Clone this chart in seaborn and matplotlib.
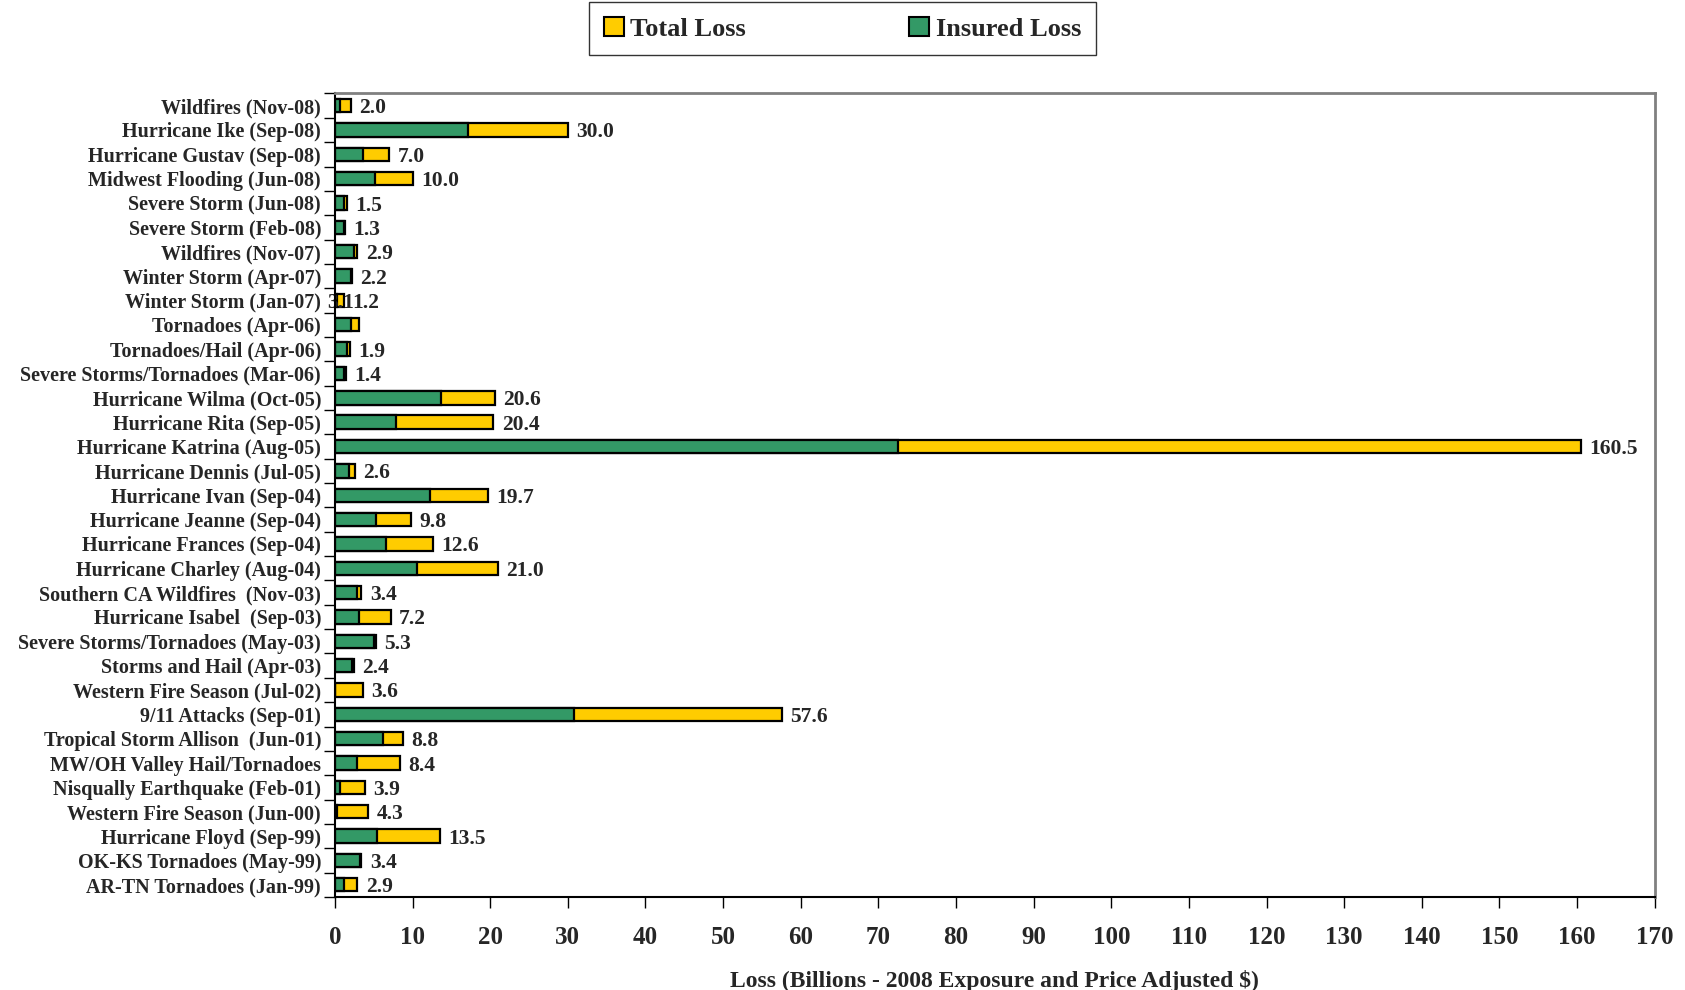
import matplotlib
matplotlib.use("Agg")
import matplotlib.pyplot as plt
import seaborn as sns
import pandas as pd
from matplotlib.patches import Patch
from matplotlib.ticker import FixedLocator

events = [
    "Wildfires (Nov-08)", "Hurricane Ike (Sep-08)", "Hurricane Gustav (Sep-08)",
    "Midwest Flooding (Jun-08)", "Severe Storm (Jun-08)", "Severe Storm (Feb-08)",
    "Wildfires (Nov-07)", "Winter Storm (Apr-07)", "Winter Storm (Jan-07)",
    "Tornadoes (Apr-06)", "Tornadoes/Hail (Apr-06)", "Severe Storms/Tornadoes (Mar-06)",
    "Hurricane Wilma (Oct-05)", "Hurricane Rita (Sep-05)", "Hurricane Katrina (Aug-05)",
    "Hurricane Dennis (Jul-05)", "Hurricane Ivan (Sep-04)", "Hurricane Jeanne (Sep-04)",
    "Hurricane Frances (Sep-04)", "Hurricane Charley (Aug-04)",
    "Southern CA Wildfires  (Nov-03)", "Hurricane Isabel  (Sep-03)",
    "Severe Storms/Tornadoes (May-03)", "Storms and Hail (Apr-03)",
    "Western Fire Season (Jul-02)", "9/11 Attacks (Sep-01)",
    "Tropical Storm Allison  (Jun-01)", "MW/OH Valley Hail/Tornadoes",
    "Nisqually Earthquake (Feb-01)", "Western Fire Season (Jun-00)",
    "Hurricane Floyd (Sep-99)", "OK-KS Tornadoes (May-99)", "AR-TN Tornadoes (Jan-99)",
]
total_loss = [2.0, 30.0, 7.0, 10.0, 1.5, 1.3, 2.9, 2.2, 1.2, 3.1, 1.9, 1.4,
              20.6, 20.4, 160.5, 2.6, 19.7, 9.8, 12.6, 21.0, 3.4, 7.2, 5.3, 2.4,
              3.6, 57.6, 8.8, 8.4, 3.9, 4.3, 13.5, 3.4, 2.9]
insured_loss = [0.6, 17.1, 3.6, 5.1, 1.2, 1.1, 2.5, 2.1, 0.3, 2.1, 1.6, 1.1,
                13.6, 7.8, 72.5, 1.8, 12.2, 5.3, 6.6, 10.6, 2.8, 3.1, 5.0, 2.2,
                0.0, 30.8, 6.25, 2.85, 0.6, 0.3, 5.4, 3.2, 1.1]
# label shown for each row (the Tornadoes (Apr-06) label is displaced in the source)
value_labels = ["%.1f" % v for v in total_loss]
value_labels[9] = ""
x_ticks = list(range(0, 171, 10))

df = pd.DataFrame({"event": events, "total": total_loss, "insured": insured_loss})

sns.set_style("white")
plt.rcParams["font.family"] = ["Liberation Serif", "DejaVu Serif"]
plt.rcParams["font.weight"] = "bold"

YELLOW = "#FFCC00"
GREEN = "#339966"

fig = plt.figure(figsize=(16.85, 9.9), dpi=100)
ax = fig.add_axes([0.1988, 0.094, 0.7832, 0.8116])

sns.barplot(data=df, x="total", y="event", color=YELLOW, saturation=1,
            edgecolor="black", linewidth=1.6, width=0.55, ax=ax, orient="h")
sns.barplot(data=df, x="insured", y="event", color=GREEN, saturation=1,
            edgecolor="black", linewidth=1.6, width=0.55, ax=ax, orient="h")

ax.set_xlim(0, 170)
ax.set_ylim(len(events) - 0.5, -0.5)
ax.set_xticks(x_ticks)
ax.set_xticklabels([str(t) for t in x_ticks], fontsize=18, fontweight="bold")
ax.tick_params(axis="x", which="major", direction="out", length=8, width=1,
               color="black", pad=13, bottom=True)

ax.set_yticks(range(len(events)))
ax.set_yticklabels(events, fontsize=14.5, fontweight="bold")
ax.tick_params(axis="y", which="major", length=0, pad=10)
ax.yaxis.set_minor_locator(FixedLocator([i - 0.5 for i in range(len(events) + 1)]))
ax.tick_params(axis="y", which="minor", direction="out", length=8, width=1,
               color="black", left=True)

ax.set_xlabel("Loss (Billions - 2008 Exposure and Price Adjusted $)",
              fontsize=17, fontweight="bold", labelpad=15)
ax.set_ylabel("")

for side in ["top", "right"]:
    ax.spines[side].set_color("#808080")
    ax.spines[side].set_linewidth(2)
for side in ["left", "bottom"]:
    ax.spines[side].set_color("black")
    ax.spines[side].set_linewidth(1.5)
ax.grid(False)

for i, (v, lab) in enumerate(zip(total_loss, value_labels)):
    if lab:
        ax.annotate(lab, xy=(v, i), xytext=(6, 0), textcoords="offset points",
                    va="center_baseline", ha="left", fontsize=15.5, fontweight="bold")
# displaced label from the source chart
ax.text(-1.0, 8, "3.1", va="center_baseline", ha="left", fontsize=15.5,
        fontweight="bold", zorder=1, clip_on=False)

handles = [Patch(facecolor=YELLOW, edgecolor="black", linewidth=1.5, label="Total Loss"),
           Patch(facecolor=GREEN, edgecolor="black", linewidth=1.5, label="Insured Loss")]
leg = fig.legend(handles=handles, loc="center", bbox_to_anchor=(0.5, 0.971), ncol=2,
                 frameon=True, fancybox=False, handlelength=0.75,
                 handleheight=0.75, handletextpad=0.25, columnspacing=6.2,
                 borderpad=0.55, borderaxespad=0, prop={"weight": "bold", "size": 19})
leg.get_frame().set_edgecolor("black")
leg.get_frame().set_linewidth(1.0)

fig.savefig("out.png", dpi=100)
